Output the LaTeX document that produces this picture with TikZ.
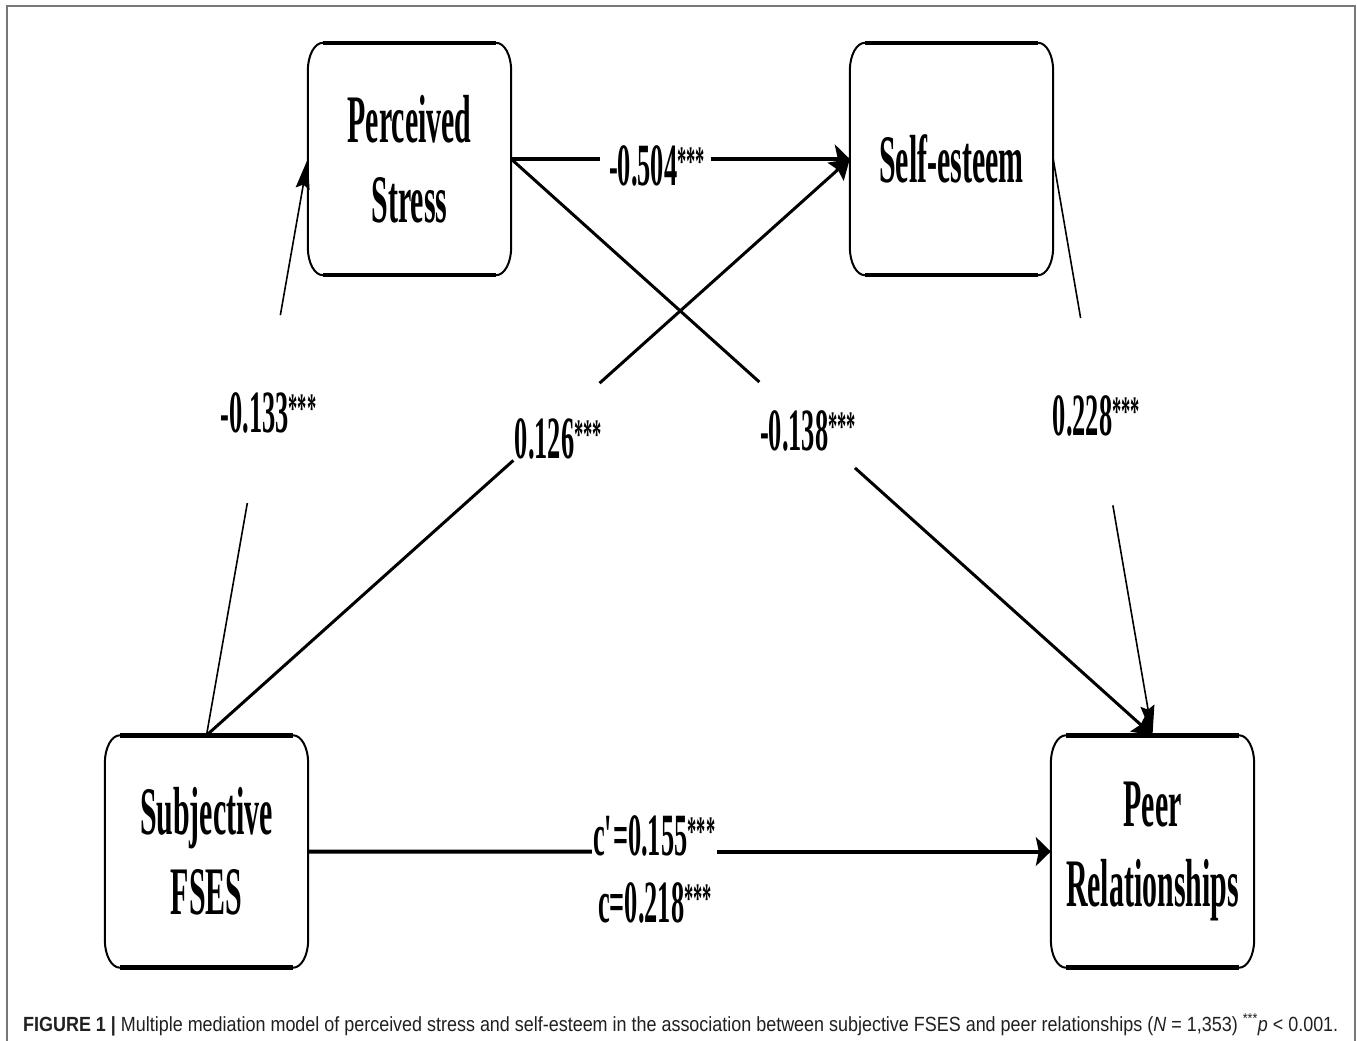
\documentclass[tikz,border=0pt]{standalone}
\usepackage{fontspec}
\usepackage{graphicx}
\usetikzlibrary{arrows.meta,calc}
\setmainfont{Liberation Serif}
\newfontfamily\condfont[FakeStretch=0.44]{Liberation Serif}
\newfontfamily\capfont{Liberation Sans}
\definecolor{framecol}{HTML}{777777}
\definecolor{captxt}{HTML}{231F20}
\newcommand\stars{{\fontsize{42}{46}\selectfont\raisebox{10pt}{***}}}
\newcommand\ebox[1]{%
  \draw[boxline] ([xshift=15pt]#1.north west) -- ([xshift=-15pt]#1.north east)
    arc[start angle=90,end angle=0,x radius=15pt,y radius=28pt]
    -- ([yshift=28pt]#1.south east)
    arc[start angle=0,end angle=-90,x radius=15pt,y radius=28pt]
    -- ([xshift=15pt]#1.south west)
    arc[start angle=270,end angle=180,x radius=15pt,y radius=28pt]
    -- ([yshift=-28pt]#1.north west)
    arc[start angle=180,end angle=90,x radius=15pt,y radius=28pt] -- cycle;
  \draw[line width=4.5pt] ([xshift=15pt]#1.north west) -- ([xshift=-15pt]#1.north east);
  \draw[line width=4.5pt] ([xshift=15pt]#1.south west) -- ([xshift=-15pt]#1.south east);}
\tikzset{
  boxtext/.style={font=\condfont\bfseries\fontsize{68}{80}\selectfont, align=center,
    minimum width=203pt, minimum height=232pt, inner sep=0pt},
  boxline/.style={line width=2pt, black},
  lab/.style={font=\condfont\bfseries\fontsize{60}{70}\selectfont, inner sep=0pt, anchor=base},
  heavyline/.style={line width=4pt, black},
  midline/.style={line width=3pt, black},
  thinline/.style={line width=1.6pt, black},
  tiph/.style={-{Stealth[length=15pt,width=29pt,inset=3pt]}},
  tipd/.style={-{Stealth[length=19pt,width=24pt,inset=3pt]}},
  tipv/.style={-{Stealth[length=30pt,width=14pt,inset=4pt]}},
}
\begin{document}
\begin{tikzpicture}[x=1pt,y=-1pt]
\useasboundingbox (0,0) rectangle (1357,1041);
\fill[white] (0,0) rectangle (1357,1041);
\draw[framecol, line width=2pt] (7,1041) -- (7,6) -- (1355,6) -- (1355,1041);

% boxes
\node[boxtext] (ps) at (409.5,159) {Perceived\\Stress};
\node[boxtext] (se) at (951.5,159) {Self-esteem};
\node[boxtext] (fs) at (206.5,851.5) {Subjective\\FSES};
\node[boxtext] (pr) at (1152.5,851.5) {Peer\\Relationships};
\ebox{ps}\ebox{se}\ebox{fs}\ebox{pr}

% gap coordinates
\coordinate (a1) at ($(ps.east)!0.262!(se.west)$);
\coordinate (a2) at ($(ps.east)!0.591!(se.west)$);
\coordinate (b1) at ($(fs.north)!0.403!(ps.west)$);
\coordinate (b2) at ($(fs.north)!0.729!(ps.west)$);
\coordinate (c1) at ($(fs.north)!0.477!(se.west)$);
\coordinate (c2) at ($(fs.north)!0.611!(se.west)$);
\coordinate (d1) at ($(ps.east)!0.387!(pr.north)$);
\coordinate (d2) at ($(ps.east)!0.536!(pr.north)$);
\coordinate (e1) at ($(se.east)!0.276!(pr.north)$);
\coordinate (e2) at ($(se.east)!0.601!(pr.north)$);
\coordinate (f1) at ($(fs.east)!0.382!(pr.west)$);
\coordinate (f2) at ($(fs.east)!0.551!(pr.west)$);

% connectors
\draw[heavyline] (ps.east) -- (a1);
\draw[heavyline,tiph] (a2) -- (se.west);
\draw[thinline] (fs.north) -- (b1);
\draw[thinline,tipv] (b2) -- (ps.west);
\draw[midline] (fs.north) -- (c1);
\draw[midline,tipd] (c2) -- (se.west);
\draw[midline] (ps.east) -- (d1);
\draw[midline,tipd] (d2) -- (pr.north);
\draw[thinline] (se.east) -- (e1);
\draw[thinline,tipv] (e2) -- (pr.north);
\draw[heavyline] (fs.east) -- (f1);
\draw[heavyline,tiph] (f2) -- (pr.west);

% labels
\node[lab] (l1) at (657,185) {-0.504\stars};
\node[lab] (l2) at (268.5,432) {-0.133\stars};
\node[lab] (l3) at (558.5,458) {0.126\stars};
\node[lab] (l4) at (808,450) {-0.138\stars};
\node[lab] (l5) at (1096.5,435) {0.228\stars};
\node[lab] (l6) at (654.5,855) {c\kern-1pt\textquotesingle\kern-8pt=0.155\stars};
\node[lab] (l7) at (655,922) {c=0.218\stars};

% caption
\node[anchor=base west, inner sep=0pt, text=captxt, font=\capfont\fontsize{20.5}{24}\selectfont] (cap) at (23,1031)
  {\resizebox{1315pt}{\height}{\textbf{FIGURE 1 |} Multiple mediation model of perceived stress and self-esteem in the association between subjective FSES and peer relationships (\textit{N} = 1,353) \textsuperscript{***}\textit{p} < 0.001.}};
\end{tikzpicture}
\end{document}
